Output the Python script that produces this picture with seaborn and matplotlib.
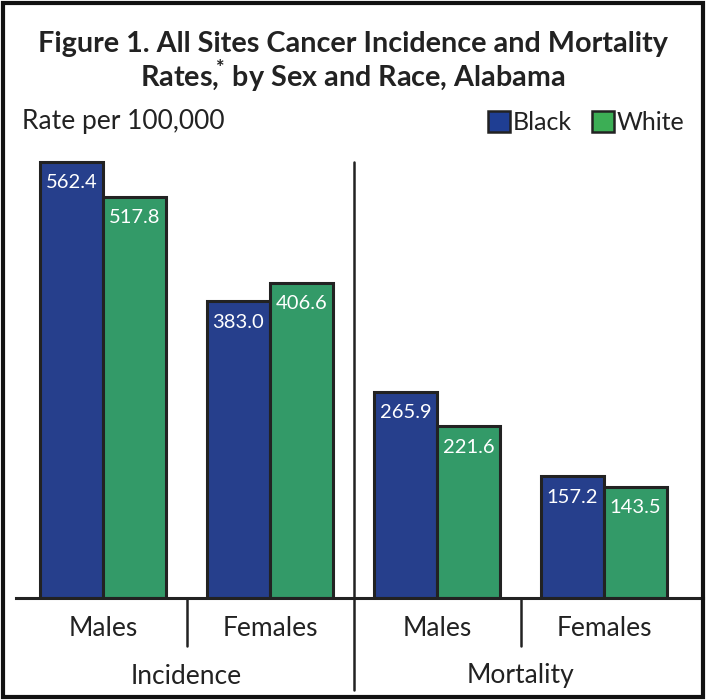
import pandas as pd
import matplotlib
matplotlib.use("Agg")
import matplotlib.pyplot as plt
from matplotlib.lines import Line2D
from matplotlib.patches import Rectangle
from matplotlib import transforms
import seaborn as sns

GROUPS = ["Incidence Males", "Incidence Females", "Mortality Males", "Mortality Females"]
SEX_LABELS = ["Males", "Females", "Males", "Females"]
MEASURES = ["Incidence", "Mortality"]
RACES = ["Black", "White"]
BLACK_RATES = [562.4, 383.0, 265.9, 157.2]
WHITE_RATES = [517.8, 406.6, 221.6, 143.5]

BLUE = "#263f8c"
GREEN = "#339a68"
EDGE = "#222222"

df = pd.DataFrame({
    "group": GROUPS * 2,
    "race": ["Black"] * 4 + ["White"] * 4,
    "rate": BLACK_RATES + WHITE_RATES,
})

sns.set_theme(style="white")
plt.rcParams["font.family"] = ["Lato", "DejaVu Sans"]
plt.rcParams["mathtext.fontset"] = "custom"
plt.rcParams["mathtext.rm"] = "Lato"
plt.rcParams["mathtext.bf"] = "Lato:bold"

W, H = 706, 700
fig = plt.figure(figsize=(W / 100, H / 100), dpi=100)

# axes: baseline at y=598px, 0.775 px per unit
top_px = 150
ax = fig.add_axes([16 / W, 1 - 598 / H, 687 / W, (598 - top_px) / H])
sns.barplot(data=df, x="group", y="rate", hue="race", order=GROUPS, hue_order=RACES,
            palette=[BLUE, GREEN], width=0.755, edgecolor=EDGE, linewidth=2.2,
            saturation=1, legend=False, ax=ax)
ax.set_ylim(0, (598 - top_px) / 0.775)
ax.set_xlim(-(103 - 16) / 167, (703 - 103) / 167)
ax.set_xlabel("")
ax.set_ylabel("")
ax.set_xticks([])
ax.set_yticks([])
for s in ["top", "left", "right"]:
    ax.spines[s].set_visible(False)
ax.spines["bottom"].set_color(EDGE)
ax.spines["bottom"].set_linewidth(2.2)

for cont in ax.containers:
    for bar in cont:
        v = bar.get_height()
        ax.annotate(f"{v:.1f}", (bar.get_x() + bar.get_width() / 2, v),
                    xytext=(0, -15), textcoords="offset points",
                    ha="center", va="center", color="white", fontsize=14.5)

# dividers and labels
bt = transforms.blended_transform_factory(ax.transData, fig.transFigure)
fy = lambda py: 1 - py / H
for xd in [0.5, 2.5]:
    fig.add_artist(Line2D([xd, xd], [fy(598), fy(646)], transform=bt, color=EDGE, lw=1.8))
fig.add_artist(Line2D([1.5, 1.5], [fy(162), fy(690)], transform=bt, color=EDGE, lw=1.8))

FS = 19
for i, lab in enumerate(SEX_LABELS):
    fig.text(i, fy(628), lab, transform=bt, ha="center", va="center", fontsize=FS, color="#222")
for i, lab in enumerate(MEASURES):
    fig.text(0.5 + 2 * i, fy(676), lab, transform=bt, ha="center", va="center", fontsize=FS, color="#222")

# title and header
fig.text(353 / W, fy(44), "Figure 1. All Sites Cancer Incidence and Mortality",
         ha="center", va="center", fontsize=20.7, fontweight="bold", color="#222")
fig.text(353 / W, fy(76), r"Rates,$^{\!\mathbf{*}}$ by Sex and Race, Alabama",
         ha="center", va="center", fontsize=20.7, fontweight="bold", color="#222")
fig.text(22 / W, fy(121), "Rate per 100,000", ha="left", va="center", fontsize=FS, color="#222")

# legend
for x0, col, lab in [(488, "#1f3e93", "Black"), (592, "#3cae55", "White")]:
    fig.add_artist(Rectangle((x0 / W, fy(132)), 22 / W, 21 / H, transform=fig.transFigure,
                             facecolor=col, edgecolor=EDGE, lw=1.8))
    fig.text((x0 + 25) / W, fy(122), lab, ha="left", va="center", fontsize=18, color="#222")

# outer frame
fig.add_artist(Rectangle((3 / W, 3 / H), (W - 6) / W, (H - 6) / H, transform=fig.transFigure,
                         facecolor="none", edgecolor="#111", lw=3))

fig.savefig("out.png", dpi=100)
